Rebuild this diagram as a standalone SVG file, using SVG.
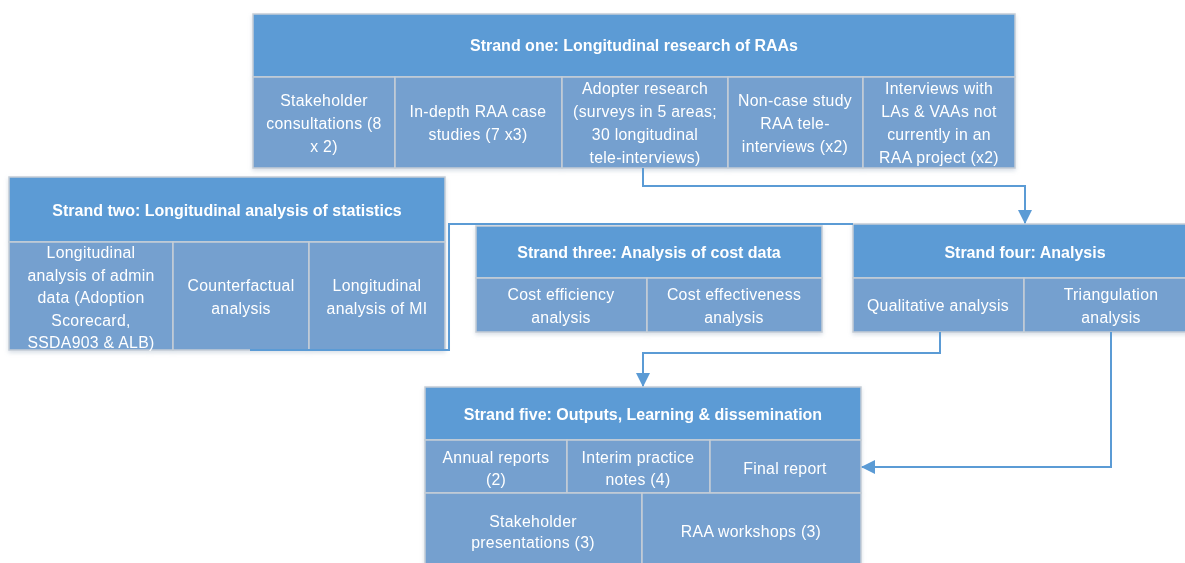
<svg xmlns="http://www.w3.org/2000/svg" width="1185" height="563" viewBox="0 0 1185 563">
<style>
.hd{fill:#5B9BD5;stroke:#C5CDD6;stroke-width:1.5}
.cl{fill:#75A0CF;stroke:#C5CDD6;stroke-width:1.5}
.ht{font-family:"Liberation Sans",Arial,sans-serif;font-size:16px;font-weight:bold;fill:#fff;text-anchor:middle}
.ct{font-family:"Liberation Sans",Arial,sans-serif;font-size:15.8px;fill:#fff;text-anchor:middle;letter-spacing:0.3px}
.cn{fill:none;stroke:#5B9BD5;stroke-width:2}
</style>
<defs>
<filter id="sh" x="-5%" y="-5%" width="110%" height="120%">
<feDropShadow dx="0" dy="2" stdDeviation="2" flood-color="#8FA3B8" flood-opacity="0.35"/>
</filter>
<marker id="ah" markerWidth="14" markerHeight="14" viewBox="0 0 14 14" refX="13" refY="7" orient="auto" markerUnits="userSpaceOnUse">
<path d="M0,0 L14,7 L0,14 Z" fill="#5B9BD5"/>
</marker>
</defs>

<g id="strand1" filter="url(#sh)">
<rect class="hd" x="253" y="14" width="762" height="63"/>
<rect class="cl" x="253" y="77" width="142" height="91"/>
<rect class="cl" x="395" y="77" width="167" height="91"/>
<rect class="cl" x="562" y="77" width="166" height="91"/>
<rect class="cl" x="728" y="77" width="135" height="91"/>
<rect class="cl" x="863" y="77" width="152" height="91"/>
<text class="ht" x="634" y="51">Strand one: Longitudinal research of RAAs</text>
<text class="ct" x="324" y="106">Stakeholder</text>
<text class="ct" x="324" y="129">consultations (8</text>
<text class="ct" x="324" y="152">x 2)</text>
<text class="ct" x="478" y="117">In-depth RAA case</text>
<text class="ct" x="478" y="140">studies (7 x3)</text>
<text class="ct" x="645" y="94">Adopter research</text>
<text class="ct" x="645" y="117">(surveys in 5 areas;</text>
<text class="ct" x="645" y="140">30 longitudinal</text>
<text class="ct" x="645" y="163">tele-interviews)</text>
<text class="ct" x="795" y="106">Non-case study</text>
<text class="ct" x="795" y="129">RAA tele-</text>
<text class="ct" x="795" y="152">interviews (x2)</text>
<text class="ct" x="939" y="94">Interviews with</text>
<text class="ct" x="939" y="117">LAs &amp; VAAs not</text>
<text class="ct" x="939" y="140">currently in an</text>
<text class="ct" x="939" y="163">RAA project (x2)</text>
</g>

<g id="strand2" filter="url(#sh)">
<rect class="hd" x="9" y="177" width="436" height="65"/>
<rect class="cl" x="9" y="242" width="164" height="108"/>
<rect class="cl" x="173" y="242" width="136" height="108"/>
<rect class="cl" x="309" y="242" width="136" height="108"/>
<text class="ht" x="227" y="216">Strand two: Longitudinal analysis of statistics</text>
<text class="ct" x="91" y="258">Longitudinal</text>
<text class="ct" x="91" y="281">analysis of admin</text>
<text class="ct" x="91" y="303">data (Adoption</text>
<text class="ct" x="91" y="326">Scorecard,</text>
<text class="ct" x="91" y="348">SSDA903 &amp; ALB)</text>
<text class="ct" x="241" y="291">Counterfactual</text>
<text class="ct" x="241" y="314">analysis</text>
<text class="ct" x="377" y="291">Longitudinal</text>
<text class="ct" x="377" y="314">analysis of MI</text>
</g>

<g id="strand3" filter="url(#sh)">
<rect class="hd" x="476" y="226" width="346" height="52"/>
<rect class="cl" x="476" y="278" width="171" height="54"/>
<rect class="cl" x="647" y="278" width="175" height="54"/>
<text class="ht" x="649" y="258">Strand three: Analysis of cost data</text>
<text class="ct" x="561" y="300">Cost efficiency</text>
<text class="ct" x="561" y="323">analysis</text>
<text class="ct" x="734" y="300">Cost effectiveness</text>
<text class="ct" x="734" y="323">analysis</text>
</g>

<g id="strand4" filter="url(#sh)">
<rect class="hd" x="853" y="224" width="344" height="54"/>
<rect class="cl" x="853" y="278" width="171" height="54"/>
<rect class="cl" x="1024" y="278" width="173" height="54"/>
<text class="ht" x="1025" y="258">Strand four: Analysis</text>
<text class="ct" x="938" y="311">Qualitative analysis</text>
<text class="ct" x="1111" y="300">Triangulation</text>
<text class="ct" x="1111" y="323">analysis</text>
</g>

<g id="strand5" filter="url(#sh)">
<rect class="hd" x="425" y="387" width="436" height="53"/>
<rect class="cl" x="425" y="440" width="142" height="53"/>
<rect class="cl" x="567" y="440" width="143" height="53"/>
<rect class="cl" x="710" y="440" width="151" height="53"/>
<rect class="cl" x="425" y="493" width="217" height="80"/>
<rect class="cl" x="642" y="493" width="219" height="80"/>
<text class="ht" x="643" y="420">Strand five: Outputs, Learning &amp; dissemination</text>
<text class="ct" x="496" y="463">Annual reports</text>
<text class="ct" x="496" y="485">(2)</text>
<text class="ct" x="638" y="463">Interim practice</text>
<text class="ct" x="638" y="485">notes (4)</text>
<text class="ct" x="785" y="474">Final report</text>
<text class="ct" x="533" y="527">Stakeholder</text>
<text class="ct" x="533" y="548">presentations (3)</text>
<text class="ct" x="751" y="537">RAA workshops (3)</text>
</g>

<g id="connectors">
<path class="cn" d="M643,168 V186 H1025 V223" marker-end="url(#ah)"/>
<path class="cn" d="M250,350 H449 V224 H853"/>
<path class="cn" d="M940,332 V353 H643 V386" marker-end="url(#ah)"/>
<path class="cn" d="M1111,332 V467 H862" marker-end="url(#ah)"/>
</g>
</svg>
